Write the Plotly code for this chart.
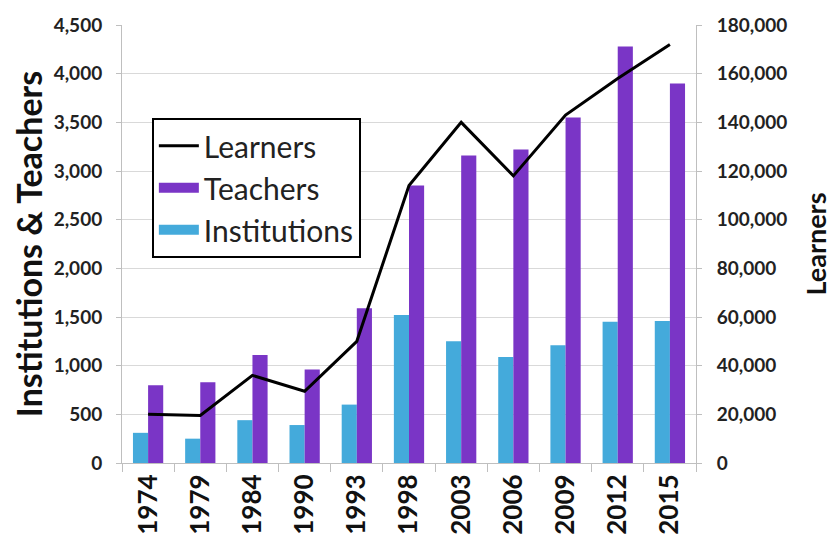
import plotly.graph_objects as go

years = ["1974", "1979", "1984", "1990", "1993", "1998", "2003", "2006", "2009", "2012", "2015"]
institutions = [310, 250, 440, 390, 600, 1520, 1250, 1090, 1210, 1450, 1460]
teachers = [800, 830, 1110, 960, 1590, 2850, 3160, 3220, 3550, 4280, 3900]
learners = [20000, 19500, 36000, 29500, 50000, 114000, 140000, 118000, 143000, 158000, 172000]

left_ticks = [0, 500, 1000, 1500, 2000, 2500, 3000, 3500, 4000, 4500]
right_ticks = [0, 20000, 40000, 60000, 80000, 100000, 120000, 140000, 160000, 180000]

FONT = "Lato"
C_INST = "#44AADB"
C_TEACH = "#7A35C6"

fig = go.Figure()
fig.add_trace(go.Bar(x=years, y=institutions, name="Institutions",
                     marker=dict(color=C_INST, line=dict(width=0)), showlegend=False))
fig.add_trace(go.Bar(x=years, y=teachers, name="Teachers",
                     marker=dict(color=C_TEACH, line=dict(width=0)), showlegend=False))
fig.add_trace(go.Scatter(x=years, y=learners, name="Learners", mode="lines",
                         line=dict(color="black", width=3), yaxis="y2", legendrank=1))
# legend swatches drawn as wide rectangles (like the reference)
fig.add_trace(go.Scatter(x=years, y=[None] * len(years), name="Teachers", mode="lines",
                         line=dict(color=C_TEACH, width=14), legendrank=2, hoverinfo="skip"))
fig.add_trace(go.Scatter(x=years, y=[None] * len(years), name="Institutions", mode="lines",
                         line=dict(color=C_INST, width=14), legendrank=3, hoverinfo="skip"))

fig.update_layout(
    width=837, height=559,
    margin=dict(l=114, r=149, t=17, b=104),
    plot_bgcolor="white", paper_bgcolor="white",
    barmode="group", bargap=0.42, bargroupgap=0,
    font=dict(family=FONT, color="#222"),
    showlegend=True,
    legend=dict(x=0.052, y=0.788, xanchor="left", yanchor="top",
                bgcolor="white", bordercolor="black", borderwidth=2,
                font=dict(size=30, family=FONT, color="#222"),
                traceorder="normal", itemwidth=40, tracegroupgap=0),
    xaxis=dict(type="category", tickangle=-90, tickson="boundaries",
               ticks="outside", ticklen=8, tickcolor="#BFBFBF", automargin=False,
               showline=True, linecolor="#BFBFBF", linewidth=1,
               tickfont=dict(size=26, family=FONT, color="#111", weight="bold"),
               showgrid=False),
    yaxis=dict(range=[0, 4500], tickvals=left_ticks, tickformat=",", automargin=False,
               ticks="outside", ticklen=5, tickcolor="#BFBFBF", ticklabelstandoff=10,
               showline=True, linecolor="#BFBFBF", linewidth=1,
               gridcolor="#D9D9D9", gridwidth=1, zeroline=False,
               tickfont=dict(size=19, family=FONT, color="#222", weight="bold"),
               title=dict(text="Institutions & Teachers", standoff=22,
                          font=dict(size=34, family=FONT, color="#111", weight="bold"))),
    yaxis2=dict(range=[0, 180000], tickvals=right_ticks, tickformat=",", automargin=False,
                overlaying="y", side="right", anchor="x",
                ticks="outside", ticklen=5, tickcolor="#BFBFBF", ticklabelstandoff=11,
                showline=True, linecolor="#BFBFBF", linewidth=1,
                showgrid=False, zeroline=False,
                tickfont=dict(size=19, family=FONT, color="#222", weight="bold"),
                title=dict(text="Learners", standoff=20,
                           font=dict(size=27, family=FONT, color="#111", weight="bold"))),
)

fig.write_html("out.html")
